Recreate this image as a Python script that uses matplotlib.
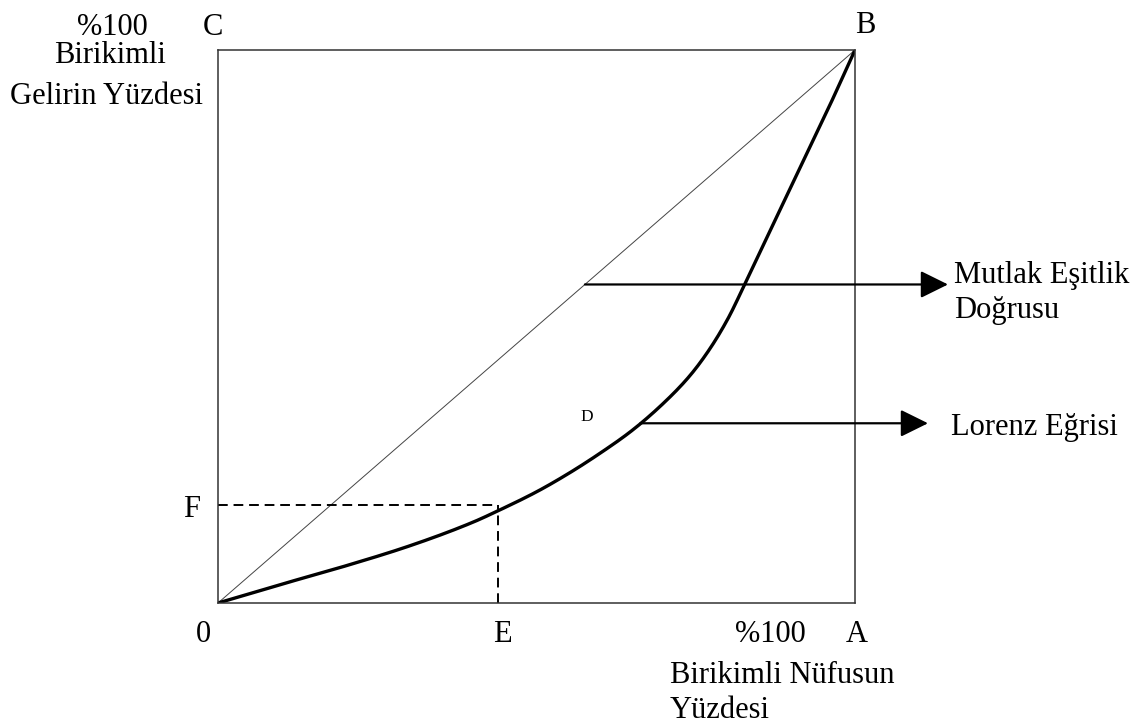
import numpy as np
import matplotlib
matplotlib.use("Agg")
import matplotlib.pyplot as plt

# ---- data (fractions of the 100% box) ----
population_share = [0.0, 0.10, 0.20, 0.30, 0.40, 0.44, 0.50, 0.55, 0.60, 0.65,
                    0.70, 0.74, 0.77, 0.80, 0.83, 0.86, 0.91, 0.96, 1.0]
income_share = [0.0, 0.034, 0.067, 0.103, 0.146, 0.167, 0.201, 0.234, 0.271,
                0.312, 0.362, 0.410, 0.456, 0.513, 0.584, 0.657, 0.778, 0.899, 1.0]
equality_x = [0.0, 1.0]
equality_y = [0.0, 1.0]
E_share = 0.440          # population share at point E
F_share = 0.177          # income share at point F
mutlak_level = 0.576     # height of the arrow to "Mutlak Eşitlik Doğrusu"
lorenz_level = 0.325     # height of the arrow to "Lorenz Eğrisi"


def pchip(x, y, xs):
    """Monotone cubic (Fritsch-Carlson) curve through the points, for smooth drawing."""
    x = np.asarray(x, float)
    y = np.asarray(y, float)
    h = np.diff(x)
    d = np.diff(y) / h
    m = np.zeros_like(y)
    for k in range(1, len(x) - 1):
        if d[k - 1] * d[k] > 0:
            w1 = 2 * h[k] + h[k - 1]
            w2 = h[k] + 2 * h[k - 1]
            m[k] = (w1 + w2) / (w1 / d[k - 1] + w2 / d[k])
    m[0] = d[0]
    m[-1] = d[-1]
    idx = np.clip(np.searchsorted(x, xs) - 1, 0, len(x) - 2)
    t = (xs - x[idx]) / h[idx]
    h00 = 2 * t**3 - 3 * t**2 + 1
    h10 = t**3 - 2 * t**2 + t
    h01 = -2 * t**3 + 3 * t**2
    h11 = t**3 - t**2
    return (h00 * y[idx] + h10 * h[idx] * m[idx] + h01 * y[idx + 1]
            + h11 * h[idx] * m[idx + 1])


W, H = 1143, 724
fig = plt.figure(figsize=(W / 100, H / 100), dpi=100)
plt.rcParams['font.family'] = ['Liberation Serif', 'DejaVu Serif']

L, R, T, B = 218, 855, 50, 603
ax = fig.add_axes([L / W, (H - B) / H, (R - L) / W, (B - T) / H])
ax.set_xlim(0, 1)
ax.set_ylim(0, 1)
ax.set_xticks([])
ax.set_yticks([])
for s in ax.spines.values():
    s.set_linewidth(1.1)
    s.set_color('#333333')


def px(x, y):
    return (x - L) / (R - L), (B - y) / (B - T)


# equality line
ax.plot(equality_x, equality_y, color='#444444', lw=0.7)
# Lorenz curve (smooth drawing through the read points)
xs = np.linspace(0, 1, 500)
ax.plot(xs, pchip(population_share, income_share, xs), color='black',
        lw=2.4, solid_capstyle='round', solid_joinstyle='round')

# dashed guides
ax.plot([0, E_share], [F_share, F_share], color='black', lw=1.4,
        linestyle=(0, (5, 3)))
ax.plot([E_share, E_share], [0, F_share], color='black', lw=1.4,
        linestyle=(0, (5, 3)))

# arrows
arrow_kw = dict(arrowstyle='-|>,head_length=0.85,head_width=0.42',
                mutation_scale=20, lw=1.6, color='black',
                shrinkA=0, shrinkB=0)
mx_tip, _ = px(948, 0)
ax.annotate('', xy=(mx_tip, mutlak_level), xytext=(mutlak_level, mutlak_level),
            arrowprops=arrow_kw, annotation_clip=False)
lx_start = float(np.interp(lorenz_level, income_share, population_share))
lx_tip, _ = px(928, 0)
ax.annotate('', xy=(lx_tip, lorenz_level), xytext=(lx_start, lorenz_level),
            arrowprops=arrow_kw, annotation_clip=False)

fs = 22
labels = [
    ('%100', 112, 35, 'center'),
    ('C', 213, 35, 'center'),
    ('B', 865, 33, 'center'),
    ('Birikimli', 110, 63, 'center'),
    ('Gelirin Yüzdesi', 107, 104, 'center'),
    ('F', 192, 517, 'center'),
    ('0', 203, 642, 'center'),
    ('E', 502, 642, 'center'),
    ('%100', 770, 642, 'center'),
    ('A', 857, 642, 'center'),
    ('Birikimli Nüfusun', 670, 683, 'left'),
    ('Yüzdesi', 670, 718, 'left'),
    ('Mutlak Eşitlik', 954, 283, 'left'),
    ('Doğrusu', 954, 318, 'left'),
    ('Lorenz Eğrisi', 951, 435, 'left'),
]
for txt, x, y, ha in labels:
    dx, dy = px(x, y)
    ax.text(dx, dy, txt, ha=ha, va='baseline', fontsize=fs, color='black',
            clip_on=False)

dx, dy = px(587, 421)
ax.text(dx, dy, 'D', ha='center', va='baseline', fontsize=12.5, color='black')

fig.savefig('out.png', dpi=100, facecolor='white')
